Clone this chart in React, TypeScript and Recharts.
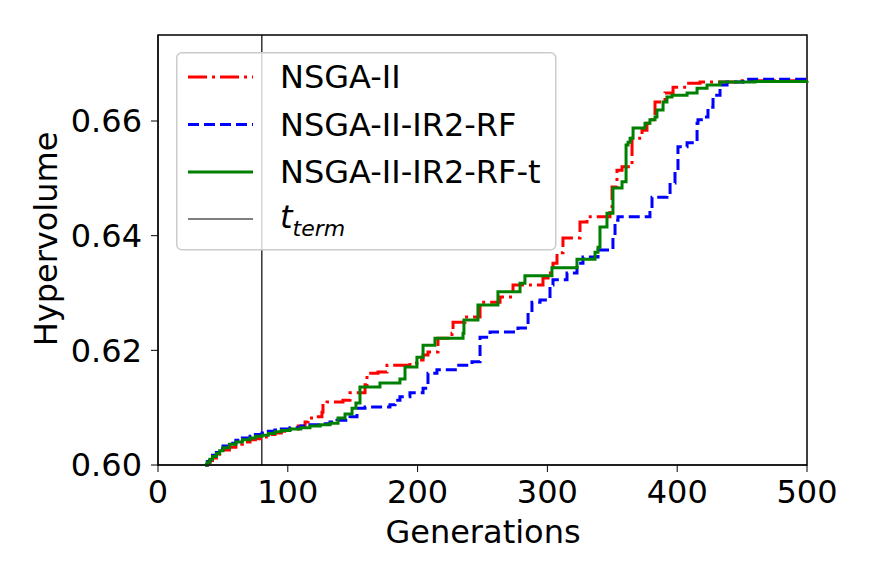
import React from 'react';
import { LineChart, Line, XAxis, YAxis, ReferenceLine, ReferenceArea, Legend } from 'recharts';

// generation at which each new hypervolume level starts (step curves)
const nsgaGen = [36.2, 38, 40, 42, 45, 47.5, 50.1, 55, 60, 65, 70.9, 75, 80.1, 85, 90.1, 95, 101.7, 108, 113.3, 115.6, 119.4, 126.3, 127.1, 130.2, 142.5, 147.9, 159.5, 161.0, 169.5, 176.4, 194.1, 199.5, 204.2, 208.0, 215.7, 226.5, 227.3, 236.5, 248.1, 263.5, 273.5, 296.6, 300.5, 304.3, 307.4, 312.0, 325.1, 330.5, 348.2, 349.8, 353.6, 357.5, 365.2, 372.9, 376.7, 380.6, 382.9, 390.6, 396.8, 407.6, 417.6, 450, 500];
const nsgaHv = [0.6, 0.6004, 0.6008, 0.6012, 0.6016, 0.6021, 0.6026, 0.6031, 0.6036, 0.604, 0.6044, 0.6046, 0.6049, 0.6053, 0.6056, 0.6059, 0.6063, 0.6068, 0.6075, 0.6082, 0.6084, 0.6092, 0.6108, 0.611, 0.6113, 0.6126, 0.614, 0.616, 0.6162, 0.6174, 0.6178, 0.6183, 0.6192, 0.6197, 0.6221, 0.623, 0.6249, 0.6258, 0.6284, 0.6293, 0.6314, 0.6326, 0.6335, 0.6352, 0.637, 0.6396, 0.6424, 0.6433, 0.6445, 0.6485, 0.6514, 0.652, 0.657, 0.6584, 0.6596, 0.6602, 0.6633, 0.6649, 0.6659, 0.6666, 0.6668, 0.667, 0.667];

const rfGen = [36.2, 38, 40, 42, 45, 47.5, 50.1, 55, 60, 65, 70.9, 75, 80.1, 85, 90, 95, 101.7, 110, 117.1, 125, 132.5, 137.9, 147.9, 153.3, 159.5, 178.7, 182.6, 186.4, 194.1, 204.2, 208.0, 214.9, 230.4, 241.9, 248.1, 255.8, 277.3, 285.1, 288.1, 294.3, 302.0, 304.3, 315.1, 322.8, 327.4, 339.0, 350.5, 352.1, 354.4, 379.0, 380.6, 392.1, 394.5, 398.3, 400.6, 407.6, 415.3, 416.0, 419.9, 423.7, 427.6, 433.0, 438.4, 450.7, 500];
const rfHv = [0.6, 0.6006, 0.6012, 0.6017, 0.6022, 0.6028, 0.6033, 0.6038, 0.6043, 0.6047, 0.605, 0.6053, 0.6056, 0.6059, 0.6061, 0.6063, 0.6065, 0.6068, 0.607, 0.6072, 0.6075, 0.6078, 0.6084, 0.6099, 0.6101, 0.6105, 0.6113, 0.6119, 0.6126, 0.6134, 0.616, 0.6166, 0.6174, 0.618, 0.6223, 0.6232, 0.6239, 0.6265, 0.6284, 0.6288, 0.6314, 0.6323, 0.6335, 0.6352, 0.6363, 0.6375, 0.6398, 0.6427, 0.6433, 0.6445, 0.6467, 0.6471, 0.6492, 0.6514, 0.6555, 0.6562, 0.6596, 0.6602, 0.6607, 0.6624, 0.6645, 0.6663, 0.6668, 0.6673, 0.6673];

const rftGen = [36.2, 38, 40, 42, 45, 47.5, 50.1, 55, 60, 65, 70.9, 75, 80.1, 85, 90, 95, 101.7, 110, 117.1, 125, 132.5, 138.7, 144.1, 149.5, 152.5, 155.6, 171.0, 186.4, 190.3, 199.5, 204.2, 213.4, 235.0, 235.7, 246.5, 261.9, 278.9, 282.7, 303.5, 322.8, 336.7, 339.0, 340.5, 345.9, 350.5, 357.5, 360.6, 362.1, 363.7, 366.0, 375.2, 379.0, 382.9, 384.4, 389.1, 392.1, 396.0, 407.6, 415.3, 423.0, 433.0, 460, 500];
const rftHv = [0.6, 0.6005, 0.601, 0.6015, 0.602, 0.6025, 0.603, 0.6036, 0.604, 0.6044, 0.6047, 0.605, 0.6052, 0.6055, 0.6058, 0.606, 0.6063, 0.6065, 0.6068, 0.607, 0.6073, 0.6082, 0.6089, 0.6099, 0.6108, 0.6136, 0.6143, 0.615, 0.6171, 0.6188, 0.6209, 0.6221, 0.623, 0.6253, 0.6279, 0.6302, 0.6317, 0.633, 0.6344, 0.6359, 0.6371, 0.638, 0.6415, 0.6439, 0.6483, 0.6494, 0.6558, 0.6563, 0.657, 0.6588, 0.6596, 0.6602, 0.6607, 0.6619, 0.6633, 0.6642, 0.6645, 0.6649, 0.6657, 0.6663, 0.6668, 0.6669, 0.667];

const tTerm = 80;
const xTicks = [0, 100, 200, 300, 400, 500];
const yTicks = [0.6, 0.62, 0.64, 0.66];

const zip = (g: number[], v: number[]) => g.map((x, i) => ({ g: x, v: v[i] }));

const FONT = '"DejaVu Sans", sans-serif';
const FS = 32;

const series = [
  { name: 'NSGA-II', data: zip(nsgaGen, nsgaHv), color: '#ff0000', dash: '19 5 3 5', width: 3 },
  { name: 'NSGA-II-IR2-RF', data: zip(rfGen, rfHv), color: '#0000ff', dash: '11 5', width: 3 },
  { name: 'NSGA-II-IR2-RF-t', data: zip(rftGen, rftHv), color: '#008000', dash: undefined, width: 3 },
];

const LegendBox = () => (
  <svg width={381} height={199} style={{ display: 'block', fontFamily: FONT }}>
    <rect x={0.75} y={0.75} width={379} height={197} rx={5} fill="#ffffff" fillOpacity={0.8} stroke="#cccccc" strokeWidth={1.5} />
    {series.map((s, i) => (
      <g key={s.name}>
        <line x1={12} x2={77} y1={25 + i * 47.5} y2={25 + i * 47.5} stroke={s.color} strokeWidth={s.width} strokeDasharray={s.dash} />
        <text x={104} y={36 + i * 47.5} fontSize={FS} fill="#000">{s.name}</text>
      </g>
    ))}
    <line x1={12} x2={77} y1={167} y2={167} stroke="#000" strokeWidth={1} />
    <text x={104} y={176} fontSize={FS} fill="#000">
      <tspan fontStyle="italic">t</tspan>
      <tspan fontStyle="italic" fontSize={22} dy={8}>term</tspan>
    </text>
  </svg>
);

export default function App() {
  return (
    <div style={{ position: 'absolute', left: 0, top: 0, width: 872, height: 581, background: '#fff' }}>
      <LineChart width={872} height={581} margin={{ top: 35, right: 65, bottom: 0, left: 0 }}>
        <XAxis
          dataKey="g"
          type="number"
          domain={[0, 500]}
          ticks={xTicks}
          allowDuplicatedCategory={false}
          height={116}
          tickSize={7}
          tickMargin={8}
          stroke="#000"
          tick={{ fontSize: FS, fill: '#000', fontFamily: FONT }}
          label={{
            content: () => (
              <text x={483} y={543} textAnchor="middle" fontSize={FS} fontFamily={FONT} fill="#000">Generations</text>
            ),
          }}
        />
        <YAxis
          dataKey="v"
          type="number"
          domain={[0.6, 0.675]}
          ticks={yTicks}
          width={158}
          tickSize={7}
          tickMargin={9}
          stroke="#000"
          tickFormatter={(t: number) => t.toFixed(2)}
          tick={{ fontSize: FS, fill: '#000', fontFamily: FONT }}
          label={{
            content: () => (
              <text x={57} y={239} transform="rotate(-90 57 239)" textAnchor="middle" fontSize={FS} fontFamily={FONT} fill="#000">Hypervolume</text>
            ),
          }}
        />
        <ReferenceArea x1={0} x2={500} y1={0.6} y2={0.675} fill="none" stroke="#000" strokeWidth={1.5} ifOverflow="visible" />
        <ReferenceLine x={tTerm} stroke="#000" strokeWidth={1.2} />
        {series.map((s) => (
          <Line
            key={s.name}
            name={s.name}
            data={s.data}
            dataKey="v"
            type="stepAfter"
            stroke={s.color}
            strokeWidth={s.width}
            strokeDasharray={s.dash}
            dot={false}
            activeDot={false}
            isAnimationActive={false}
          />
        ))}
        <Legend
          layout="horizontal"
          verticalAlign="middle"
          align="center"
          wrapperStyle={{ position: 'absolute', left: 176, top: 52, width: 381, height: 199 }}
          content={() => <LegendBox />}
        />
      </LineChart>
    </div>
  );
}
